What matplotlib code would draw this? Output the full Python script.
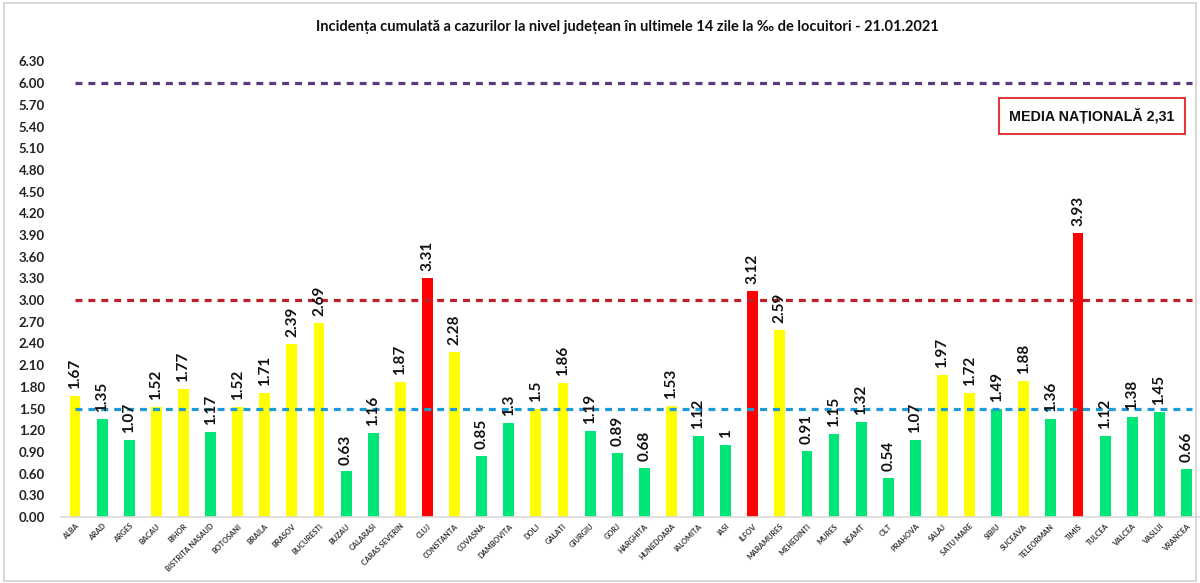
import matplotlib
matplotlib.use("Agg")
import matplotlib.pyplot as plt
from matplotlib.patches import Rectangle

judete = ["ALBA", "ARAD", "ARGES", "BACAU", "BIHOR", "BISTRITA NASAUD", "BOTOSANI",
          "BRAILA", "BRASOV", "BUCURESTI", "BUZAU", "CALARASI", "CARAS SEVERIN", "CLUJ",
          "CONSTANTA", "COVASNA", "DAMBOVITA", "DOLJ", "GALATI", "GIURGIU", "GORJ",
          "HARGHITA", "HUNEDOARA", "IALOMITA", "IASI", "ILFOV", "MARAMURES", "MEHEDINTI",
          "MURES", "NEAMT", "OLT", "PRAHOVA", "SALAJ", "SATU MARE", "SIBIU", "SUCEAVA",
          "TELEORMAN", "TIMIS", "TULCEA", "VALCEA", "VASLUI", "VRANCEA"]
incidenta = [1.67, 1.35, 1.07, 1.52, 1.77, 1.17, 1.52, 1.71, 2.39, 2.69, 0.63, 1.16,
             1.87, 3.31, 2.28, 0.85, 1.3, 1.5, 1.86, 1.19, 0.89, 0.68, 1.53, 1.12, 1,
             3.12, 2.59, 0.91, 1.15, 1.32, 0.54, 1.07, 1.97, 1.72, 1.49, 1.88, 1.36,
             3.93, 1.12, 1.38, 1.45, 0.66]
praguri = [1.5, 3.0, 6.0]
culori_prag = ["#1d9bd6", "#c0202a", "#5b3a80"]
y_ticks = [round(0.3 * i, 2) for i in range(22)]
media = "MEDIA NAȚIONALĂ 2,31"
titlu = "Incidența cumulată a cazurilor la nivel județean în ultimele 14 zile la ‰ de locuitori - 21.01.2021"

plt.rcParams["font.family"] = ["Lato", "DejaVu Sans"]
plt.rcParams["lines.scale_dashes"] = False


def culoare(v):
    if v >= 3:
        return "#ff0000"
    if v >= 1.5:
        return "#ffff00"
    return "#00e676"


fig = plt.figure(figsize=(12, 5.83), dpi=100)
fig.patches.append(Rectangle((0.003, 0.004), 0.994, 0.99, transform=fig.transFigure,
                             fill=False, edgecolor="#d0d0d0", lw=1.2))

ax = fig.add_axes([61.5 / 1200, 66 / 583, (1200 - 61.5) / 1200, 455.5 / 583])
x = list(range(len(judete)))
ax.bar(x, incidenta, width=0.4, color=[culoare(v) for v in incidenta], zorder=2)

for xi, v in zip(x, incidenta):
    ax.annotate(f"{v:g}", (xi, v), xytext=(0, 5), textcoords="offset points",
                rotation=90, ha="center", va="bottom", fontsize=11,
                fontweight="bold", color="#111111", zorder=4)

for y, c in zip(praguri, culori_prag):
    ax.hlines(y, 0, len(judete) - 1 + 0.2, colors=c, linewidth=2.3,
              linestyles=(0, (5, 4.3)), zorder=3)

ax.set_xlim(-0.5, len(judete) - 0.5)
ax.set_ylim(0, 6.3)
ax.set_yticks(y_ticks)
ax.set_yticklabels([f"{t:.2f}" for t in y_ticks], fontsize=9.5, fontweight="bold",
                   color="#222222")
ax.set_xticks(x)
ax.set_xticklabels(judete, rotation=45, ha="right", rotation_mode="anchor",
                   fontsize=5.3, fontweight="bold", color="#333333")
ax.tick_params(axis="y", length=0, pad=12)
ax.tick_params(axis="x", length=0, pad=4)
for s in ["top", "right", "left"]:
    ax.spines[s].set_visible(False)
ax.spines["bottom"].set_color("#d9d9d9")
ax.spines["bottom"].set_linewidth(1.2)

fig.text(627 / 1200, 1 - 27 / 583, titlu, ha="center", va="center",
         fontsize=10.5, fontweight="bold", color="#111111")
fig.text(1092 / 1200, 1 - 116 / 583, media, ha="center", va="center",
         fontsize=10.3, fontweight="bold", family=["Liberation Sans", "DejaVu Sans"],
         color="#111111",
         bbox=dict(boxstyle="square,pad=0.72", facecolor="white", edgecolor="#e03a3a",
                   linewidth=1.5))

fig.savefig("out.png", dpi=100)
